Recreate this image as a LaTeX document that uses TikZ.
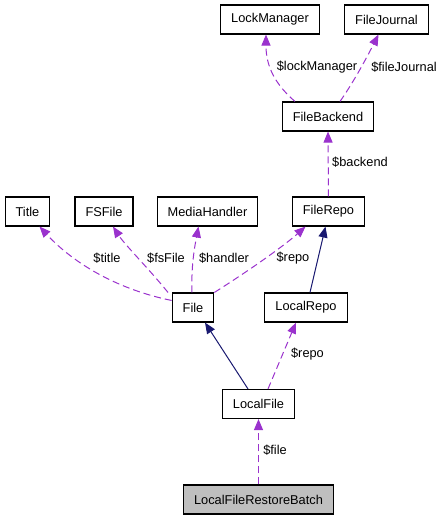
\documentclass[tikz,border=0pt]{standalone}
\usepackage{fontspec}
\setmainfont{Liberation Sans}
\usetikzlibrary{arrows.meta,positioning}

\begin{document}
\begin{tikzpicture}[x=1pt,y=1pt]
\tikzset{
  classnode/.style={draw=black,line width=1.1pt,rectangle,minimum height=29pt,inner xsep=10.5pt,inner ysep=0pt,font=\fontsize{12.8}{14}\selectfont},
  thisclass/.style={classnode,fill=black!25},
  usage/.style={-{Triangle[length=11pt,width=9pt]},dash pattern=on 7pt off 4pt,line width=1pt,draw=dkorchid},
  inherit/.style={-{Triangle[length=11pt,width=9pt]},line width=1pt,draw=midblue},
  edgelabel/.style={font=\fontsize{12.8}{14}\selectfont,inner sep=0pt}
}
\definecolor{dkorchid}{HTML}{9A32CD}
\definecolor{midblue}{HTML}{191970}
\useasboundingbox (0,0) rectangle (443,-520);
\node[classnode] (n_lockmgr) at (270,-19.5) {LockManager};
\node[classnode] (n_journal) at (386.5,-19.5) {FileJournal};
\node[classnode] (n_backend) at (328,-116.5) {FileBackend};
\node[classnode] (n_title) at (27.5,-211.5) {Title};
\node[classnode] (n_fsfile) at (104,-211.5) {FSFile};
\node[classnode] (n_handler) at (207.5,-211.5) {MediaHandler};
\node[classnode] (n_repo) at (328.5,-211.5) {FileRepo};
\node[classnode] (n_file) at (193,-307.5) {File};
\node[classnode] (n_localrepo) at (306,-307.5) {LocalRepo};
\node[classnode] (n_localfile) at (258.5,-404) {LocalFile};
\node[thisclass] (n_batch) at (258.5,-499.5) {LocalFileRestoreBatch};
% member usage
\draw[usage] ([xshift=-33pt]n_backend.north) .. controls (270,-80) and (266,-60) .. ([xshift=-4pt]n_lockmgr.south)
  node[edgelabel] at (317,-67) {\$lockManager};
\draw[usage] ([xshift=12pt]n_backend.north) .. controls (355,-80) and (368,-55) .. ([xshift=-8pt]n_journal.south)
  node[edgelabel] at (404,-67) {\$fileJournal};
\draw[usage] (n_repo.north) -- (n_backend.south)
  node[edgelabel] at (360,-162) {\$backend};
\draw[usage] ([yshift=-8pt]n_file.north west) .. controls (120,-290) and (75,-265) .. ([xshift=12pt]n_title.south)
  node[edgelabel] at (107,-258) {\$title};
\draw[usage] ([xshift=-25pt]n_file.north) .. controls (150,-270) and (125,-245) .. ([xshift=9pt]n_fsfile.south)
  node[edgelabel] at (166,-258) {\$fsFile};
\draw[usage] ([xshift=-1pt]n_file.north) .. controls (191,-265) and (195,-245) .. ([xshift=-9pt]n_handler.south)
  node[edgelabel] at (224,-258) {\$handler};
\draw[usage] (n_file.north east) .. controls (250,-270) and (285,-245) .. ([xshift=-23pt]n_repo.south)
  node[edgelabel] at (293,-258) {\$repo};
\draw[usage] ([xshift=9.5pt]n_localfile.north) -- ([xshift=-10pt]n_localrepo.south)
  node[edgelabel] at (307.5,-354) {\$repo};
\draw[usage] (n_batch.north) -- (n_localfile.south)
  node[edgelabel] at (275,-450) {\$file};
% inheritance
\draw[inherit] ([xshift=4pt]n_localrepo.north) -- ([xshift=-3pt]n_repo.south);
\draw[inherit] ([xshift=-10.5pt]n_localfile.north) -- ([xshift=12pt]n_file.south);
\end{tikzpicture}
\end{document}
